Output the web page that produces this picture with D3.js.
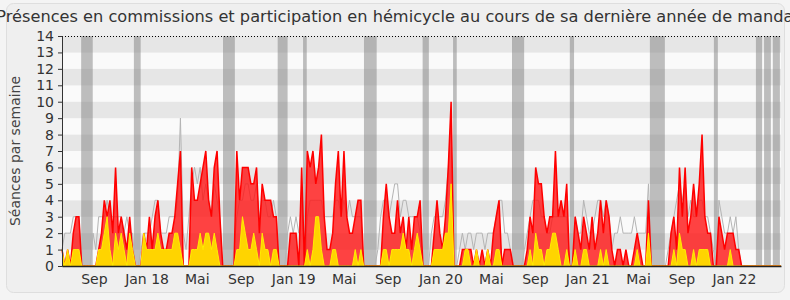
<!DOCTYPE html>
<html><head><meta charset="utf-8">
<script src="https://cdn.jsdelivr.net/npm/d3@7"></script>
<style>
html,body{margin:0;padding:0;background:#f4f4f4;}
svg{display:block;font-family:"DejaVu Sans",Verdana,sans-serif;}
</style></head>
<body><svg id="chart" width="790" height="300"></svg>
<script>
// ---- data (weekly, index 0 = first week of the legislature) ----
const weeksTotal = 255;
const commissionsRed = [
1,0,1,0,2,3,3,0,0,0, 0,0,0,1,2,4,3,4,2,6, 2,3,2,1,3,1,0,0,0,2,
1,3,1,3,4,2,1,1,2,2, 3,5,7,0,0,0,6,4,4,5, 6,7,4,3,6,7,3,0,0,0,
0,0,7,4,6,6,6,5,5,6, 2,5,4,4,4,3,3,0,0,0, 0,2,2,2,0,6,0,7,6,7,
5,6,8,3,1,1,2,5,7,3, 7,3,2,2,3,4,4,0,0,0, 0,0,0,0,3,5,3,2,2,4,
2,3,1,3,1,3,3,4,0,0, 0,0,2,4,2,1,3,6,10,0, 0,0,1,1,1,1,0,1,0,1,
0,1,0,2,3,4,0,1,1,1, 0,0,0,0,0,1,3,2,6,5, 5,3,2,3,3,7,3,4,3,5,
0,0,3,2,1,3,2,1,3,1, 2,4,2,4,3,1,0,1,1,0, 1,0,0,1,2,1,0,0,4,0,
0,0,0,0,0,0,2,3,1,6, 3,6,2,3,5,3,5,8,3,2, 2,0,0,3,2,1,2,2,2,1,
1,0,0,0,0,0,0,0,0,0, 0,0,0,0,0,0
];
const hemicycleYellow = [
1,0,1,0,1,1,1,0,0,0, 0,0,0,1,1,2,3,1,0,2, 1,2,1,0,2,1,0,0,0,2,
1,1,1,1,2,1,1,1,1,1, 2,2,1,0,0,0,1,1,1,2, 1,2,2,1,2,1,0,0,0,0,
0,0,1,1,3,2,1,1,2,1, 0,2,1,1,0,1,1,0,0,0, 0,0,0,0,0,0,0,1,0,1,
3,3,1,0,0,0,1,1,0,0, 0,0,0,0,1,0,1,0,0,0, 0,0,0,0,1,1,0,1,1,1,
1,2,1,1,0,1,2,1,0,0, 0,0,1,1,1,1,2,2,5,0, 0,0,0,1,1,0,0,1,0,0,
0,1,0,0,1,1,0,0,0,0, 0,0,0,0,0,0,1,0,2,1, 1,0,1,1,2,2,1,0,0,1,
0,0,1,0,0,1,1,0,0,0, 0,1,0,1,0,0,0,0,0,0, 0,0,0,0,1,0,0,0,2,0,
0,0,0,0,0,0,0,1,0,2, 1,1,0,0,1,0,1,1,1,1, 0,0,0,0,0,0,0,1,0,0,
0,0,0,0,0,0,0,0,0,0, 0,0,0,0,0,0
];
const medianGrey = [
1,2,2,2,3,3,3,0,0,0, 0,2,1,3,3,3,4,3,3,3, 3,3,2,3,2,2,0,0,1,2,
2,2,3,4,4,2,2,2,3,3, 3,4,9,2,1,3,5,6,5,6, 4,5,4,3,5,4,3,0,0,0,
0,1,3,4,4,5,5,4,4,5, 3,4,4,3,3,4,3,0,0,0, 2,3,2,3,2,4,0,3,4,4,
4,4,4,3,3,3,3,4,4,3, 4,3,4,3,3,3,3,0,0,0, 0,0,1,3,4,4,3,4,5,5,
3,4,4,3,3,3,3,2,0,0, 0,2,3,3,3,3,4,6,9,0, 0,1,2,1,2,2,1,2,2,2,
1,2,2,2,3,4,4,2,2,1, 0,0,0,0,1,2,3,4,4,4, 3,3,2,2,3,3,3,3,3,3,
0,0,3,2,2,4,3,2,2,3, 4,4,3,4,3,1,2,2,3,2, 2,2,2,3,2,2,2,2,5,0,
0,0,0,0,0,1,2,3,4,5, 4,5,3,4,3,3,4,4,3,3, 2,1,0,4,3,2,2,3,2,3,
1,0,0,0,0,0,0,0,0,0, 0,0,0,0,0,0
];
// parliamentary holidays, in week index units [start, end]
const vacationStart = [6.8,25.5,57.1,76.5,85.5,107.1,127.9,138.7,159.6,180.1,208.5,231.2,246.1,249.0,252.1];
const vacationEnd   = [10.9,27.9,61.3,80.0,86.8,111.6,130.1,140.0,163.9,181.6,213.8,232.6,248.3,251.4,254.6];
// month labels and the week index where they sit
const tickWeeks  = [11.3,30,47.8,63.4,82,99.9,115.5,134.2,152.1,167.7,186.3,204.3,219.7,238.3];
const tickLabels = ["Sep","Jan 18","Mai","Sep","Jan 19","Mai","Sep","Jan 20","Mai","Sep","Jan 21","Mai","Sep","Jan 22"];
const yTicks = d3.range(0, 15);
const title = "Présences en commissions et participation en hémicycle au cours de sa dernière année de mandat";
const yTitle = "Séances par semaine";

// ---- drawing ----
const svg = d3.select("#chart");
const L = 62, R = 781, T = 36, B = 266;
const x = d3.scaleLinear().domain([0, weeksTotal]).range([L, R]);
const y = d3.scaleLinear().domain([0, 14]).range([B, T]);

svg.append("rect").attr("x", 6.5).attr("y", 3.5).attr("width", 778).attr("height", 289)
  .attr("rx", 7).attr("fill", "#efefef").attr("stroke", "#dedede");

// horizontal stripes
svg.append("g").selectAll("rect").data(d3.range(0, 14)).join("rect")
  .attr("x", L).attr("width", R - L)
  .attr("y", d => y(d + 1)).attr("height", d => y(d) - y(d + 1))
  .attr("fill", d => d % 2 === 1 ? "#e6e6e6" : "#fafafa");

// vacations
svg.append("g").selectAll("rect").data(vacationStart).join("rect")
  .attr("x", (d) => x(d)).attr("width", (d, i) => x(vacationEnd[i]) - x(d))
  .attr("y", T).attr("height", B - T)
  .attr("fill", "rgba(128,128,128,0.5)");

const idx = d3.range(commissionsRed.length);

// median line
svg.append("path").datum(idx)
  .attr("d", d3.line().x(i => x(i)).y(i => y(medianGrey[i])))
  .attr("fill", "none").attr("stroke", "#b4b4b4").attr("stroke-width", 1);

// red area
svg.append("path").datum(idx)
  .attr("d", d3.area().x(i => x(i)).y0(y(0)).y1(i => y(commissionsRed[i])))
  .attr("fill", "rgba(255,20,20,0.8)");
svg.append("path").datum(idx)
  .attr("d", d3.line().x(i => x(i)).y(i => y(commissionsRed[i])))
  .attr("fill", "none").attr("stroke", "#ff0000").attr("stroke-width", 1.5);

// yellow area
svg.append("path").datum(idx)
  .attr("d", d3.area().x(i => x(i)).y0(y(0)).y1(i => y(hemicycleYellow[i])))
  .attr("fill", "#ffd400");
svg.append("path").datum(idx)
  .attr("d", d3.line().x(i => x(i)).y(i => y(hemicycleYellow[i])))
  .attr("fill", "none").attr("stroke", "#ffee00").attr("stroke-width", 1);

// top dotted line
svg.append("line").attr("x1", L).attr("x2", R).attr("y1", T + 0.5).attr("y2", T + 0.5)
  .attr("stroke", "#000").attr("stroke-dasharray", "1,2");

// y axis
const yAxis = svg.append("g").attr("transform", `translate(${L},0)`)
  .call(d3.axisLeft(y).tickValues(yTicks).tickSize(4).tickFormat(d3.format("d")));
yAxis.select(".domain").attr("stroke", "#333");
yAxis.selectAll(".tick line").attr("stroke", "#333");
yAxis.selectAll("text").attr("font-size", 14).attr("fill", "#333")
  .attr("font-family", "DejaVu Sans").attr("dx", -1);

// x axis
const xAxis = svg.append("g").attr("transform", `translate(0,${B})`)
  .call(d3.axisBottom(x).tickValues(tickWeeks).tickSize(0).tickFormat((d, i) => tickLabels[i]));
xAxis.select(".domain").attr("stroke", "#222").attr("stroke-width", 1.5);
xAxis.selectAll("text").attr("font-size", 14).attr("fill", "#333")
  .attr("font-family", "DejaVu Sans").attr("dy", "1.05em");

// titles
svg.append("text").attr("x", 398).attr("y", 22).attr("text-anchor", "middle")
  .attr("font-size", 16.2).attr("fill", "#333").text(title);
svg.append("text").attr("transform", "translate(20,151) rotate(-90)")
  .attr("text-anchor", "middle").attr("font-size", 14).attr("fill", "#444").text(yTitle);
</script></body></html>
